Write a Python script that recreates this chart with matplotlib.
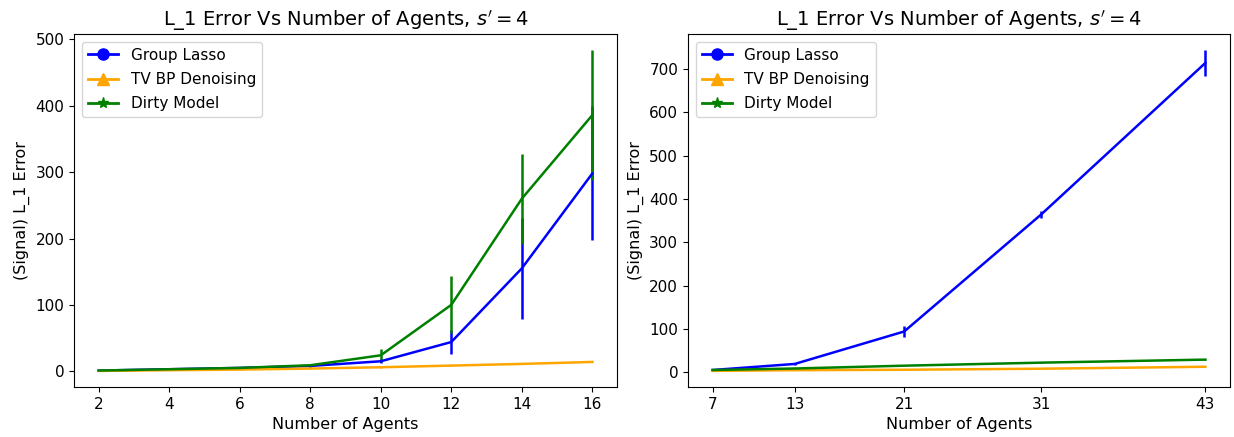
import matplotlib
matplotlib.use("Agg")
import matplotlib.pyplot as plt
from matplotlib.lines import Line2D

# Left panel data
agents_left = [2, 4, 6, 8, 10, 12, 14, 16]
gl_left = [1, 3, 5, 8, 15, 44, 155, 298]
gl_left_err = [0.3, 0.5, 0.8, 1.5, 3, 18, 76, 101]
tv_left = [0.5, 1.5, 2.5, 4, 6, 8.5, 11, 14]
tv_left_err = [0.1, 0.1, 0.2, 0.3, 0.4, 0.5, 0.6, 0.8]
dm_left = [1, 3, 5, 9, 24, 100, 260, 386]
dm_left_err = [0.3, 0.5, 1, 2, 10, 43, 68, 98]

# Right panel data
agents_right = [7, 13, 21, 31, 43]
gl_right = [5, 19, 94, 364, 714]
gl_right_err = [1, 2, 12, 9, 30]
tv_right = [3, 4.6, 5.6, 8, 12.5]
tv_right_err = [0.2, 0.3, 0.3, 0.4, 0.5]
dm_right = [5, 8.5, 15, 22, 29]
dm_right_err = [0.3, 0.4, 0.5, 0.6, 0.8]

title = "L_1 Error Vs Number of Agents, $s'=4$"
labels = ["Group Lasso", "TV BP Denoising", "Dirty Model"]
colors = ["blue", "orange", "green"]
markers = ["o", "^", "*"]

fig = plt.figure(figsize=(12.34, 4.37), dpi=100)
ax1 = fig.add_axes([0.0600, 0.1144, 0.4400, 0.8078])
ax2 = fig.add_axes([0.5575, 0.1144, 0.4392, 0.8078])

def draw(ax, x, series, ticks):
    for (y, e), c in zip(series, colors):
        ax.errorbar(x, y, yerr=e, color=c, lw=1.8, elinewidth=1.8, capsize=0)
    handles = [Line2D([0], [0], color=c, marker=m, lw=2, markersize=8)
               for c, m in zip(colors, markers)]
    ax.legend(handles, labels, loc="upper left", fontsize=11, labelspacing=0.6)
    ax.set_xticks(ticks)
    ax.set_xlabel("Number of Agents", fontsize=11.5)
    ax.set_ylabel("(Signal) L_1 Error", fontsize=11.5)
    ax.set_title(title, fontsize=14)
    ax.tick_params(labelsize=11)

draw(ax1, agents_left, [(gl_left, gl_left_err), (tv_left, tv_left_err), (dm_left, dm_left_err)], agents_left)
draw(ax2, agents_right, [(gl_right, gl_right_err), (tv_right, tv_right_err), (dm_right, dm_right_err)], agents_right)

fig.savefig("out.png", dpi=100)
